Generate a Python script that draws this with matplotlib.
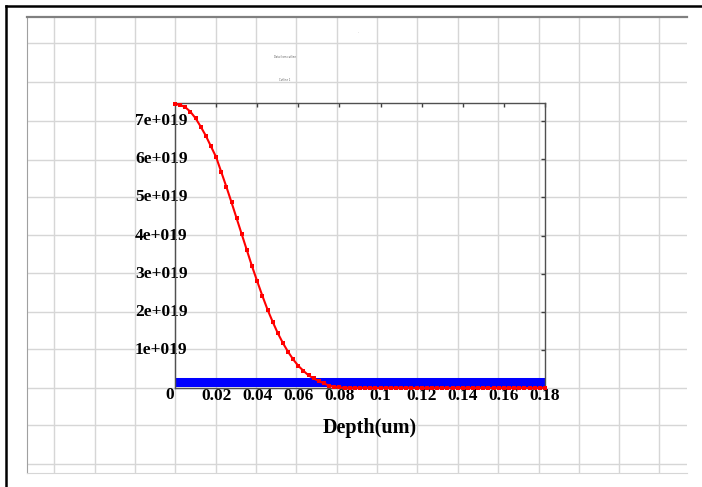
import numpy as np
import matplotlib
matplotlib.use('Agg')
import matplotlib.pyplot as plt

# data, concentration in 1e19
depth = np.arange(0, 0.18001, 0.0025)
conc = [7.45, 7.43, 7.37, 7.25, 7.08, 6.86, 6.62, 6.34, 6.06, 5.67, 5.28, 4.87,
        4.45, 4.03, 3.61, 3.19, 2.80, 2.42, 2.06, 1.74, 1.44, 1.18, 0.95, 0.75,
        0.58, 0.45, 0.33, 0.25, 0.18, 0.12, 0.06, 0.03, 0.015, 0.007, 0.003, 0.001,
        0.0, 0.0, 0.0, 0.0, 0.0, 0.0, 0.0, 0.0, 0.0, 0.0, 0.0, 0.0, 0.0, 0.0,
        0.0, 0.0, 0.0, 0.0, 0.0, 0.0, 0.0, 0.0, 0.0, 0.0, 0.0, 0.0, 0.0, 0.0,
        0.0, 0.0, 0.0, 0.0, 0.0, 0.0, 0.0, 0.0, 0.0]
conc = np.array(conc) * 1e19
background_level = 0.17e19
xticks = [0.02, 0.04, 0.06, 0.08, 0.1, 0.12, 0.14, 0.16, 0.18]
xtick_labels = ['0.02', '0.04', '0.06', '0.08', '0.1', '0.12', '0.14', '0.16', '0.18']
yticks = [1e19, 2e19, 3e19, 4e19, 5e19, 6e19, 7e19]
ytick_labels = ['1e+019', '2e+019', '3e+019', '4e+019', '5e+019', '6e+019', '7e+019']

W, H = 702, 487
fig = plt.figure(figsize=(W / 100, H / 100), dpi=100)
fig.patch.set_facecolor('white')

def rect(x0, y0, x1, y1):
    return [x0 / W, 1 - y1 / H, (x1 - x0) / W, (y1 - y0) / H]

# outer black frame
fig.add_artist(plt.Line2D([5.5 / W, 5.5 / W], [0, 1 - 6 / H], color='black', lw=1.8))
fig.add_artist(plt.Line2D([5.5 / W, 1], [1 - 6 / H, 1 - 6 / H], color='black', lw=1.8))

# background grid panel (pixel coordinates)
bg = fig.add_axes(rect(27, 17, 687, 473))
bg.set_xlim(27, 687)
bg.set_ylim(473, 17)
vlines = [54, 95, 135, 175, 216, 256, 296, 337, 377, 417, 458, 498, 539, 579, 619, 659]
hlines = [43, 82, 121, 160, 197, 235, 273, 312, 349, 388, 425, 464]
for v in vlines:
    bg.axvline(v, color='#d6d6d6', lw=1)
for h in hlines:
    bg.axhline(h, color='#d6d6d6', lw=1)
bg.set_xticks([])
bg.set_yticks([])
bg.spines['right'].set_visible(False)
bg.spines['top'].set_color('#808080')
bg.spines['top'].set_linewidth(1.6)
bg.spines['left'].set_color('#a0a0a0')
bg.spines['bottom'].set_color('#d6d6d6')
bg.text(285, 57, 'Data from cutline', fontsize=1.8, color='#555555', ha='center', va='center')
bg.text(285, 80, 'Cutline 1', fontsize=1.8, color='#555555', ha='center', va='center')
bg.text(358, 32, '.', fontsize=2, color='#555555', ha='center', va='center')

# main plot
ax = fig.add_axes(rect(175, 103, 545, 388))
ax.patch.set_alpha(0)
ax.plot(depth, np.full(len(depth), background_level), color='#0000ff', lw=6.5,
        solid_capstyle='butt', zorder=2)
ax.plot(depth, conc, color='red', lw=1.5, marker='s', ms=2.4, mew=0, zorder=3,
        clip_on=False)
ax.set_xlim(0, 0.18)
ax.set_ylim(0, 7.48e19)

tfont = dict(family='Liberation Serif', weight='bold', size=12.5)
ax.set_xticks(xticks)
ax.set_xticklabels(xtick_labels, fontdict=tfont)
ax.set_yticks(yticks)
ax.set_yticklabels(ytick_labels, fontdict=tfont)
ax.tick_params(axis='x', which='both', direction='in', length=3, width=1,
               bottom=False, top=True, pad=0, color='#404040')
ax.tick_params(axis='y', which='both', direction='in', length=3, width=1,
               left=False, right=True, pad=-9, color='#404040')
for lbl in ax.get_yticklabels():
    lbl.set_verticalalignment('center')
for s in ax.spines.values():
    s.set_color('#505050')
    s.set_linewidth(1)
ax.annotate('0', xy=(0, 0), xycoords='data', xytext=(-3.6, -5), textcoords='offset points',
            ha='center', va='center', **tfont)
ax.set_xlabel('Depth(um)', family='Liberation Serif', weight='bold', size=14.5)
ax.xaxis.set_label_coords(195 / 370, -30 / 285)

fig.savefig('out.png', dpi=100)
